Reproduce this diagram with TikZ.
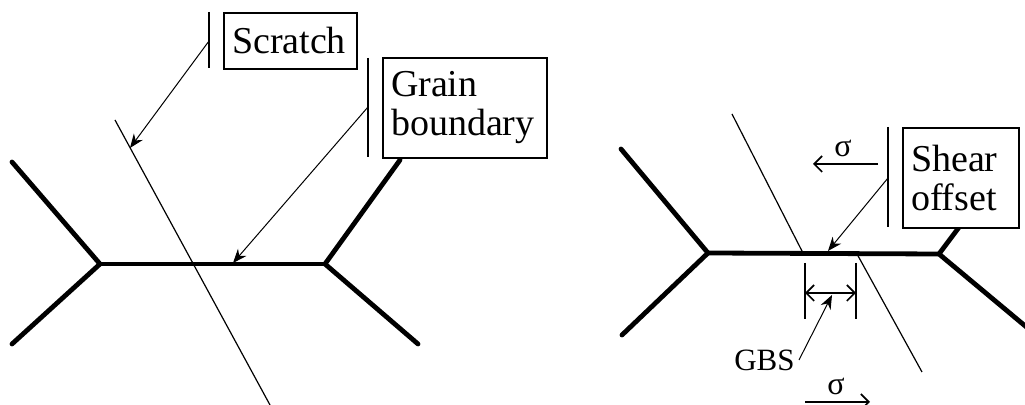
\documentclass[tikz,border=0pt]{standalone}
\usepackage{fontspec}
\setmainfont{Liberation Serif}
\usetikzlibrary{arrows.meta}
\begin{document}
\begin{tikzpicture}[x=0.5pt,y=-0.5pt,
  gb/.style={line width=2.4pt,line cap=round,line join=miter},
  scr/.style={line width=0.6pt},
  lbl/.style={draw,line width=1pt,fill=white,inner xsep=4pt,inner ysep=0pt,
    align=left,font=\fontsize{19}{19.5}\selectfont},
  bar/.style={line width=0.8pt},
  lead/.style={line width=0.5pt,-{Stealth[length=7pt,width=5.5pt]}},
  force/.style={line width=0.8pt,-{Straight Barb[length=4pt,width=8pt]}},
  dim/.style={line width=0.8pt,{Straight Barb[length=4pt,width=8pt]}-{Straight Barb[length=4pt,width=8pt]}},
  sig/.style={inner sep=0pt,font=\fontsize{16}{16}\selectfont}]
\useasboundingbox (0,0) rectangle (1025,405);

% ---------- left: grain boundary with an intact scratch ----------
\coordinate (jA) at (100,264);
\coordinate (jB) at (325,264);
\draw[gb] (12,162) -- (jA) -- (12,344);
\draw[gb] (jA) -- (jB);
\draw[gb] (400,160) -- (jB) -- (418,344);
\coordinate (s1) at (115,120);
\coordinate (s2) at (270,405);
\draw[scr] (s1) -- (s2);

\node[lbl,minimum width=66.5pt,minimum height=28pt,text width=58.5pt] (scratch) at (290.5,41) {Scratch};
\node[lbl,minimum width=82pt,minimum height=50pt,text width=74pt] (grain) at (465,108) {Grain\\boundary};
\coordinate (barA1) at (209,12);
\coordinate (barA2) at (209,68);
\draw[bar] (barA1) -- (barA2);
\coordinate (barB1) at (368,58);
\coordinate (barB2) at (368,157);
\draw[bar] (barB1) -- (barB2);
\coordinate (fromA) at (209,41);
\coordinate (toA) at (130,148);
\draw[lead] (fromA) -- (toA);
\coordinate (fromB) at (368,107);
\coordinate (toB) at (233,263);
\draw[lead] (fromB) -- (toB);

% ---------- right: the scratch offset by sliding ----------
\coordinate (jC) at (708,253);
\coordinate (jD) at (939,254);
\draw[gb] (621,149) -- (jC) -- (622,335);
\draw[gb] (jC) -- (jD);
\draw[gb] (960,226) -- (jD) -- (1030,330);
\coordinate (t1) at (732,114);
\coordinate (t2) at (803,253);
\coordinate (t3) at (857,254);
\coordinate (t4) at (922,372);
\draw[scr] (t1) -- (t2);
\draw[scr] (t3) -- (t4);

\node[lbl,minimum width=58pt,minimum height=50pt,text width=50pt] (shear) at (961,178) {Shear\\offset};
\coordinate (barC1) at (888,127);
\coordinate (barC2) at (888,227);
\draw[bar] (barC1) -- (barC2);
\coordinate (fromC) at (888,178);
\coordinate (toC) at (828,251);
\draw[lead] (fromC) -- (toC);

% upper shear stress
\coordinate (f1a) at (878,164);
\coordinate (f1b) at (813,164);
\draw[force] (f1a) -- (f1b);
\node[sig] (sigA) at (843,148) {σ};

% GBS dimension
\coordinate (d1a) at (805,263);
\coordinate (d1b) at (805,319);
\coordinate (d2a) at (856,263);
\coordinate (d2b) at (856,319);
\draw[bar] (d1a) -- (d1b);
\draw[bar] (d2a) -- (d2b);
\coordinate (dl) at (805,293);
\coordinate (dr) at (856,293);
\draw[dim] (dl) -- (dr);
\node[inner sep=0pt,anchor=base east,font=\fontsize{15.5}{15.5}\selectfont] (gbs) at (795,371) {GBS};
\coordinate (fromG) at (799,360);
\coordinate (toG) at (832,295);
\draw[lead] (fromG) -- (toG);

% lower shear stress
\coordinate (f2a) at (805,402);
\coordinate (f2b) at (870,402);
\draw[force] (f2a) -- (f2b);
\node[sig] (sigB) at (836,386) {σ};
\end{tikzpicture}
\end{document}
